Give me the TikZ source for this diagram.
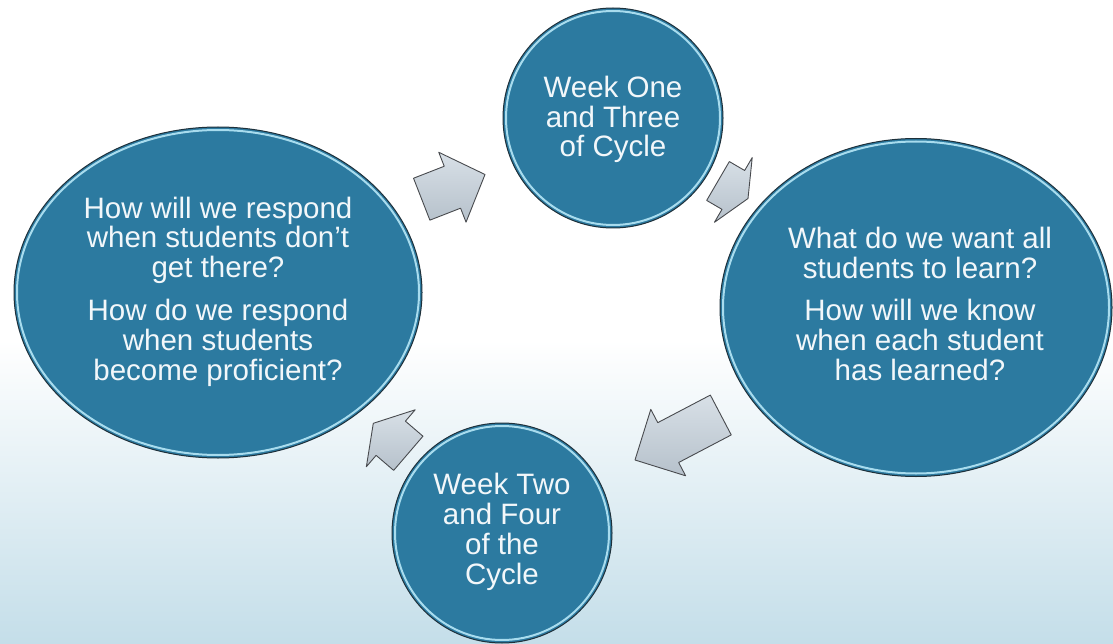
\documentclass[tikz,border=0pt]{standalone}
\usepackage{fontspec}
\setmainfont{Liberation Sans}
\usetikzlibrary{calc,shapes.geometric}
\definecolor{nodefill}{RGB}{44,122,160}
\definecolor{nodeedge}{RGB}{30,48,58}
\definecolor{nodeshine}{RGB}{168,220,238}
\definecolor{txtcol}{RGB}{242,247,250}
\definecolor{arrowtop}{RGB}{216,224,231}
\definecolor{arrowbot}{RGB}{182,193,203}
\definecolor{arrowedge}{RGB}{72,74,78}
\definecolor{bgB}{RGB}{196,222,233}
\newcommand\cyclearrow[4]{% name, tail, tip, head length
  \coordinate (#1h) at ($(#3)!#4!(#2)$);
  \path[arrowbody] ($(#2)!22.5pt!90:(#3)$) -- ($(#1h)!22.5pt!-90:(#2)$) -- ($(#1h)!37.5pt!-90:(#2)$) -- (#3) -- ($(#1h)!37.5pt!90:(#2)$) -- ($(#1h)!22.5pt!90:(#2)$) -- ($(#2)!22.5pt!-90:(#3)$) -- cycle;}
\begin{document}
\begin{tikzpicture}[x=1pt,y=-1pt,
  bubble/.style={ellipse, inner sep=0pt, fill=nodefill},
  bubbleedge/.style={draw=nodeedge, line width=1pt},
  shine/.style={draw=nodeshine, line width=2pt},
  txt/.style={align=center, text=txtcol, inner sep=0pt, anchor=base,
    font=\fontsize{29.5}{29.8}\selectfont},
  arrowbody/.style={top color=arrowtop, bottom color=arrowbot, draw=arrowedge, line width=0.9pt, line join=round}]
\useasboundingbox (0,0) rectangle (1113,644);
\fill[white] (0,0) rectangle (1113,340);
\shade[top color=white, bottom color=bgB] (0,340) rectangle (1113,644);

% nodes
\node[bubble, minimum width=408pt, minimum height=331pt] (L) at (218,292.5) {};
\node[bubble, minimum width=220pt, minimum height=220pt] (T) at (613,118) {};
\node[bubble, minimum width=392pt, minimum height=338pt] (R) at (916,307.5) {};
\node[bubble, minimum width=220pt, minimum height=220pt] (B) at (502,533) {};

\draw[shine] (L.center) ellipse [x radius=201, y radius=162.5];
\draw[shine] (T.center) ellipse [x radius=107, y radius=107];
\draw[shine] (R.center) ellipse [x radius=193, y radius=166];
\draw[shine] (B.center) ellipse [x radius=107, y radius=107];
\draw[bubbleedge] (L.center) ellipse [x radius=204, y radius=165.5];
\draw[bubbleedge] (T.center) ellipse [x radius=110, y radius=110];
\draw[bubbleedge] (R.center) ellipse [x radius=196, y radius=169];
\draw[bubbleedge] (B.center) ellipse [x radius=110, y radius=110];

% texts (anchor = baseline of last line)
\node[txt] (Ltext) at (218,380) {How will we respond\\when students don’t\\get there?\\[13pt]How do we respond\\when students\\become proficient?};
\node[txt] (Ttext) at (613,157) {Week One\\and Three\\of Cycle};
\node[txt] (Rtext) at (920,380) {What do we want all\\students to learn?\\[12pt]How will we know\\when each student\\has learned?};
\node[txt] (Btext) at (502,584) {Week Two\\and Four\\of the\\Cycle};

% arrows
\coordinate (a1s) at (421.7,199.2);
\coordinate (a1e) at (485,174.5);
\coordinate (a2s) at (718,181);
\coordinate (a2e) at (748,198.5);
\coordinate (a3s) at (720.8,415);
\coordinate (a3e) at (635,460);
\coordinate (a4s) at (408.3,453.3);
\coordinate (a4e) at (373.3,423.3);
\cyclearrow{a1}{a1s}{a1e}{35pt}
\cyclearrow{a2}{a2s}{a2e}{17pt}
\cyclearrow{a3}{a3s}{a3e}{37.5pt}
\cyclearrow{a4}{a4s}{a4e}{23pt}
\end{tikzpicture}
\end{document}
